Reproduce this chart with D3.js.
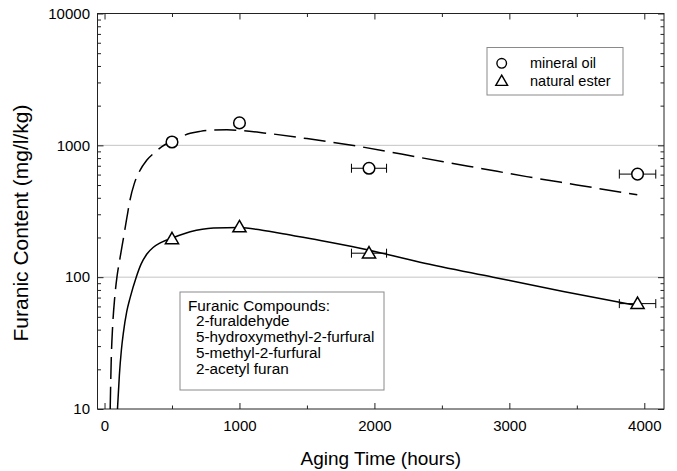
<!DOCTYPE html>
<html>
<head>
<meta charset="utf-8">
<script src="https://cdn.jsdelivr.net/npm/d3@7"></script>
<style>
  body { margin: 0; background: #fff; }
  svg { font-family: "Liberation Sans", Arial, sans-serif; }
</style>
</head>
<body>
<script>
const width = 677;
const height = 471;

// measured points (aging hours, furanic content)
var hours = [500, 1000, 1960, 3950];
var hourErr = [0, 0, 130, 135];
var mineralOil = [1060, 1480, 670, 605];
var naturalEster = [195, 240, 152, 63];

// fitted curves
var mineralFitT = [42, 50, 60, 75, 92, 115, 141, 165, 190, 220, 252, 314, 370, 425, 511, 635, 709, 807, 907, 1000, 1203, 1500, 1896, 2200, 2511, 2800, 3129, 3500, 3948];
var mineralFitV = [10, 24, 42, 69, 100, 140, 200, 280, 390, 510, 614, 774, 880, 977, 1090, 1235, 1276, 1305, 1310, 1300, 1235, 1125, 977, 858, 751, 665, 579, 501, 421];
var esterFitT = [96, 110, 125, 140, 165, 190, 235, 270, 314, 360, 413, 511, 635, 807, 1000, 1150, 1301, 1600, 1894, 2338, 2880, 3400, 3944];
var esterFitV = [10, 18, 28, 38, 55, 70, 100, 125, 150, 168, 182, 200, 221, 236, 238, 229, 215, 190, 166, 130, 100, 78, 61];

var xTicks = [0, 1000, 2000, 3000, 4000];
var xMinor = [500, 1500, 2500, 3500];
var yTicks = [10, 100, 1000, 10000];
var gridValues = [100, 1000];
var legendLabels = ["mineral oil", "natural ester"];
var noteLines = ["Furanic Compounds:", "2-furaldehyde", "5-hydroxymethyl-2-furfural", "5-methyl-2-furfural", "2-acetyl furan"];

var plotL = 97.5, plotR = 664, plotT = 13.5, plotB = 409;

var svg = d3.select("body")
  .append("svg")
  .attr("width", width)
  .attr("height", height);

var xscale = d3.scaleLinear()
  .domain([-52, 4146])
  .range([plotL, plotR]);

var yscale = d3.scaleLog()
  .domain([10, 10000])
  .range([plotB, plotT]);

var yMinor = [];
[10, 100, 1000].forEach(function(d) {
  for (var k = 2; k <= 9; k++) yMinor.push(d * k);
});

svg.append("defs").append("clipPath").attr("id", "plot")
  .append("rect")
  .attr("x", plotL).attr("y", plotT)
  .attr("width", plotR - plotL).attr("height", plotB - plotT);

// gridlines
svg.append("g").selectAll("line")
  .data(gridValues)
  .enter().append("line")
  .attr("x1", plotL).attr("x2", plotR)
  .attr("y1", d => yscale(d)).attr("y2", d => yscale(d))
  .attr("stroke", "#c4c4c4")
  .attr("stroke-width", 1);

// axes, ticks pointing inward
function styleAxis(g) {
  g.select(".domain").remove();
  g.selectAll(".tick line").attr("stroke", "#222");
  g.selectAll(".tick text").attr("fill", "#000").attr("font-size", "15px")
    .attr("font-family", "\"Liberation Sans\", Arial, sans-serif");
}

svg.append("g")
  .attr("transform", "translate(0," + plotB + ")")
  .call(d3.axisBottom(xscale).tickValues(xTicks).tickSize(-6).tickPadding(11).tickFormat(d3.format("d")))
  .call(styleAxis);
svg.append("g")
  .attr("transform", "translate(0," + plotB + ")")
  .call(d3.axisBottom(xscale).tickValues(xMinor).tickSize(-3.5).tickFormat(""))
  .call(styleAxis);
svg.append("g")
  .attr("transform", "translate(0," + plotT + ")")
  .call(d3.axisTop(xscale).tickValues(xTicks).tickSize(-6).tickFormat(""))
  .call(styleAxis);
svg.append("g")
  .attr("transform", "translate(0," + plotT + ")")
  .call(d3.axisTop(xscale).tickValues(xMinor).tickSize(-3.5).tickFormat(""))
  .call(styleAxis);

svg.append("g")
  .attr("transform", "translate(" + plotL + ",0)")
  .call(d3.axisLeft(yscale).tickValues(yTicks).tickSize(-6).tickPadding(7.5).tickFormat(d3.format("d")))
  .call(styleAxis);
svg.append("g")
  .attr("transform", "translate(" + plotL + ",0)")
  .call(d3.axisLeft(yscale).tickValues(yMinor).tickSize(-3.5).tickFormat(""))
  .call(styleAxis);
svg.append("g")
  .attr("transform", "translate(" + plotR + ",0)")
  .call(d3.axisRight(yscale).tickValues(yTicks).tickSize(-6).tickFormat(""))
  .call(styleAxis);
svg.append("g")
  .attr("transform", "translate(" + plotR + ",0)")
  .call(d3.axisRight(yscale).tickValues(yMinor).tickSize(-3.5).tickFormat(""))
  .call(styleAxis);

// frame
svg.append("rect")
  .attr("x", plotL).attr("y", plotT)
  .attr("width", plotR - plotL).attr("height", plotB - plotT)
  .attr("fill", "none")
  .attr("stroke", "#222")
  .attr("stroke-width", 1);

// axis titles
svg.append("text")
  .attr("x", (plotL + plotR) / 2)
  .attr("y", 465)
  .attr("text-anchor", "middle")
  .attr("font-size", "19px")
  .text("Aging Time (hours)");

svg.append("text")
  .attr("transform", "translate(28," + 223 + ") rotate(-90)")
  .attr("text-anchor", "middle")
  .attr("font-size", "21px")
  .text("Furanic Content (mg/l/kg)");

// fitted curves
var line = d3.line()
  .x(d => xscale(d[0]))
  .y(d => yscale(d[1]))
  .curve(d3.curveMonotoneX);

var curves = svg.append("g").attr("clip-path", "url(#plot)");
curves.append("path")
  .attr("d", line(d3.zip(mineralFitT, mineralFitV)))
  .attr("fill", "none")
  .attr("stroke", "#000")
  .attr("stroke-width", 1.5)
  .attr("stroke-dasharray", "22,8");
curves.append("path")
  .attr("d", line(d3.zip(esterFitT, esterFitV)))
  .attr("fill", "none")
  .attr("stroke", "#000")
  .attr("stroke-width", 1.5);

// error bars
var errData = [];
hours.forEach(function(h, i) {
  if (hourErr[i] > 0) {
    errData.push({ t: h, e: hourErr[i], v: mineralOil[i] });
    errData.push({ t: h, e: hourErr[i], v: naturalEster[i] });
  }
});
var eb = svg.append("g").attr("stroke", "#000").attr("stroke-width", 1);
eb.selectAll(".bar").data(errData).enter().append("line")
  .attr("x1", d => xscale(d.t - d.e)).attr("x2", d => xscale(d.t + d.e))
  .attr("y1", d => yscale(d.v)).attr("y2", d => yscale(d.v));
eb.selectAll(".capl").data(errData).enter().append("line")
  .attr("x1", d => xscale(d.t - d.e)).attr("x2", d => xscale(d.t - d.e))
  .attr("y1", d => yscale(d.v) - 4.5).attr("y2", d => yscale(d.v) + 4.5);
eb.selectAll(".capr").data(errData).enter().append("line")
  .attr("x1", d => xscale(d.t + d.e)).attr("x2", d => xscale(d.t + d.e))
  .attr("y1", d => yscale(d.v) - 4.5).attr("y2", d => yscale(d.v) + 4.5);

// markers
var tri = d3.symbol().type(d3.symbolTriangle).size(75);

svg.append("g").selectAll("circle")
  .data(d3.zip(hours, mineralOil))
  .enter().append("circle")
  .attr("cx", d => xscale(d[0]))
  .attr("cy", d => yscale(d[1]))
  .attr("r", 5.8)
  .attr("fill", "#fff")
  .attr("stroke", "#000")
  .attr("stroke-width", 1.5);

svg.append("g").selectAll("path")
  .data(d3.zip(hours, naturalEster))
  .enter().append("path")
  .attr("d", tri)
  .attr("transform", d => "translate(" + xscale(d[0]) + "," + (yscale(d[1]) + 1) + ")")
  .attr("fill", "#fff")
  .attr("stroke", "#000")
  .attr("stroke-width", 1.5);

// legend
var lg = svg.append("g");
lg.append("rect")
  .attr("x", 487).attr("y", 47.5)
  .attr("width", 136).attr("height", 47.5)
  .attr("fill", "#fff")
  .attr("stroke", "#8a8a8a");
lg.append("circle")
  .attr("cx", 501.7).attr("cy", 63.3).attr("r", 4.8)
  .attr("fill", "#fff").attr("stroke", "#000").attr("stroke-width", 1.4);
lg.append("path")
  .attr("d", d3.symbol().type(d3.symbolTriangle).size(60))
  .attr("transform", "translate(501.7,82)")
  .attr("fill", "#fff").attr("stroke", "#000").attr("stroke-width", 1.4);
lg.selectAll("text").data(legendLabels).enter().append("text")
  .attr("x", 530)
  .attr("y", (d, i) => 67.5 + i * 18)
  .attr("font-size", "14.5px")
  .text(d => d);

// compounds note
var nb = svg.append("g");
nb.append("rect")
  .attr("x", 180).attr("y", 292)
  .attr("width", 204).attr("height", 98)
  .attr("fill", "#fff")
  .attr("stroke", "#8a8a8a");
nb.selectAll("text").data(noteLines).enter().append("text")
  .attr("x", (d, i) => i === 0 ? 188 : 196)
  .attr("y", (d, i) => 310.7 + i * 15.7)
  .attr("font-size", "15.3px")
  .text(d => d);
</script>
</body>
</html>
